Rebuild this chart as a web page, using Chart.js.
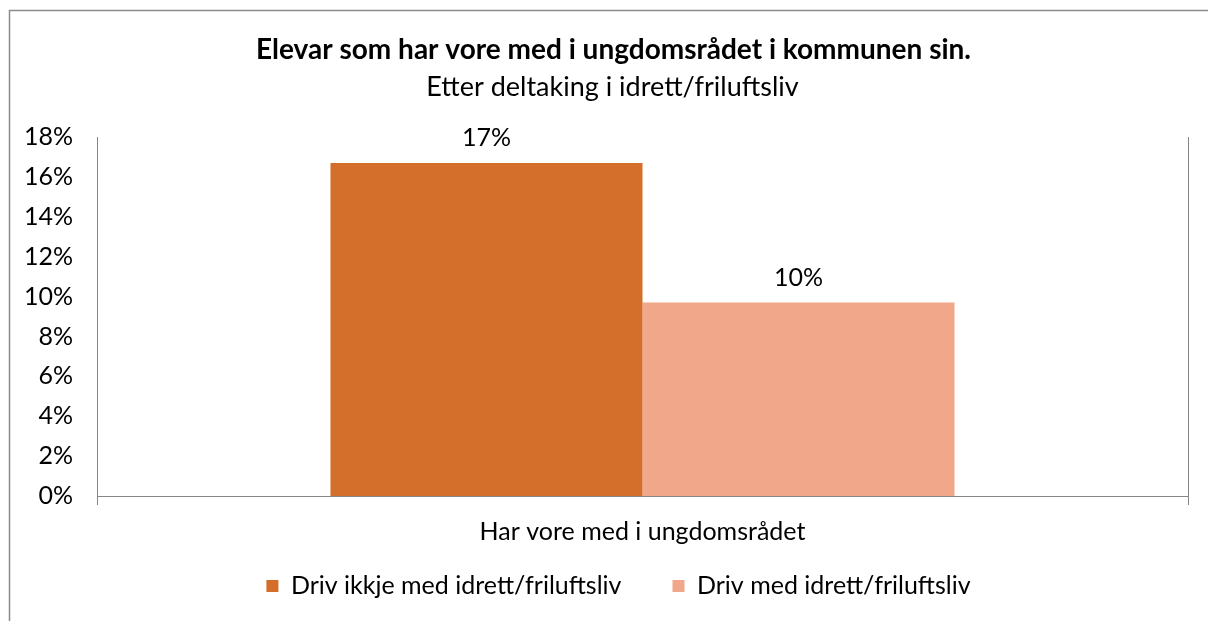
<!DOCTYPE html>
<html>
<head>
<meta charset="utf-8">
<script src="https://cdn.jsdelivr.net/npm/chart.js@4/dist/chart.umd.min.js"></script>
<style>
  html, body { margin: 0; padding: 0; background: #fff; }
  #wrap { position: relative; width: 1208px; height: 621px; }
</style>
</head>
<body>
<div id="wrap"><canvas id="c" width="1208" height="621"></canvas></div>
<script>
const titleText = 'Elevar som har vore med i ungdomsrådet i kommunen sin.';
const subtitleText = 'Etter deltaking i idrett/friluftsliv';
const categories = ['Har vore med i ungdomsrådet'];
const seriesNames = ['Driv ikkje med idrett/friluftsliv', 'Driv med idrett/friluftsliv'];
const ikkjeIdrettValues = [16.7];
const medIdrettValues = [9.7];
const yMin = 0, yMax = 18, yStep = 2;

const FONT = 'Lato';
const axisGray = '#868686';

const framePlugin = {
  id: 'frame',
  beforeDraw(chart) {
    const ctx = chart.ctx;
    ctx.save();
    ctx.fillStyle = '#fff';
    ctx.fillRect(0, 0, chart.width, chart.height);
    ctx.strokeStyle = '#8c8c8c';
    ctx.lineWidth = 1.5;
    ctx.beginPath();
    ctx.moveTo(9.5, chart.height);
    ctx.lineTo(9.5, 10.5);
    ctx.lineTo(chart.width, 10.5);
    ctx.stroke();
    ctx.restore();
  }
};

// place legend and titles where the reference has them
const boxPlace = {
  id: 'boxPlace',
  afterLayout(chart) {
    const lg = chart.legend;
    if (lg) {
      const pad = lg.options.labels.padding;
      const itemH = Math.max(lg.options.labels.boxHeight, lg.options.labels.font.size);
      const newTop = 586 - itemH / 2 - pad;
      const dy = newTop - lg.top;
      lg.top += dy; lg.bottom += dy;
      lg.left += 20; lg.right += 20;
    }
    chart.boxes.forEach(b => {
      if (b.options && b.options.text === titleText) { b.left += 15; b.right += 15; }
      if (b.options && b.options.text === subtitleText) { b.left += 14; b.right += 14; }
    });
  }
};

const valueLabels = {
  id: 'valueLabels',
  afterDatasetsDraw(chart) {
    const ctx = chart.ctx;
    ctx.save();
    ctx.font = '25px ' + FONT;
    ctx.fillStyle = '#000';
    ctx.textAlign = 'center';
    ctx.textBaseline = 'middle';
    chart.data.datasets.forEach((ds, di) => {
      const meta = chart.getDatasetMeta(di);
      meta.data.forEach((el, i) => {
        ctx.fillText(Math.round(ds.data[i]) + '%', el.x, el.y - 25);
      });
    });
    ctx.restore();
  }
};

new Chart(document.getElementById('c'), {
  type: 'bar',
  data: {
    labels: categories,
    datasets: [
      { label: seriesNames[0], data: ikkjeIdrettValues, backgroundColor: '#D36F2B', yAxisID: 'y' },
      { label: seriesNames[1], data: medIdrettValues, backgroundColor: '#F0A78A', yAxisID: 'y' }
    ]
  },
  options: {
    responsive: false,
    animation: false,
    events: [],
    layout: { padding: { left: 9, right: 20, top: 0, bottom: -13 } },
    datasets: { bar: { categoryPercentage: 0.572, barPercentage: 1.0 } },
    plugins: {
      title: {
        display: true, text: titleText, color: '#000',
        font: { family: FONT, size: 28, weight: 'bold' },
        padding: { top: 33, bottom: 0 }
      },
      subtitle: {
        display: true, text: subtitleText, color: '#000',
        font: { family: FONT, size: 27, weight: 'normal' },
        padding: { top: 4.2, bottom: 33.8 }
      },
      legend: {
        position: 'bottom',
        labels: {
          color: '#000', boxWidth: 12, boxHeight: 12,
          font: { family: FONT, size: 25 },
          padding: 51
        }
      },
      tooltip: { enabled: false }
    },
    scales: {
      x: {
        grid: { display: true, drawOnChartArea: false, drawTicks: true, tickLength: 9, color: axisGray, offset: true },
        border: { display: true, color: axisGray },
        ticks: { color: '#000', font: { family: FONT, size: 25 }, padding: 12 },
        afterFit(scale) { scale.height = 52; }
      },
      y: {
        min: yMin, max: yMax,
        grid: { display: false, drawTicks: false },
        border: { display: true, color: axisGray },
        ticks: { stepSize: yStep, color: '#000', font: { family: FONT, size: 25 }, padding: 24,
                 callback: v => v + '%' },
        afterFit(scale) { scale.width = 88; }
      },
      y2: {
        position: 'right', min: yMin, max: yMax,
        grid: { display: false, drawTicks: false },
        border: { display: true, color: axisGray },
        ticks: { display: false },
        afterFit(scale) { scale.width = 0; }
      }
    }
  },
  plugins: [framePlugin, boxPlace, valueLabels]
});
</script>
</body>
</html>
